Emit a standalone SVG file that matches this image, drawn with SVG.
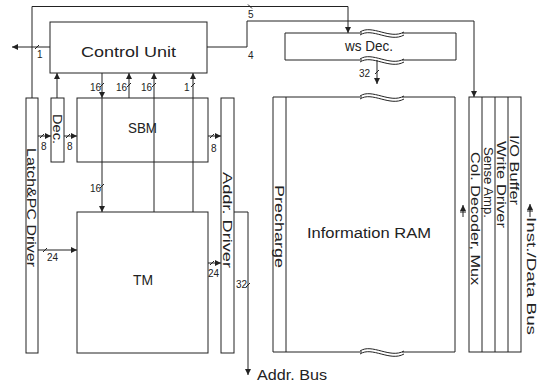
<svg xmlns="http://www.w3.org/2000/svg" width="557" height="383" viewBox="0 0 557 383">
<style>
.bx{fill:none;stroke:#222;stroke-width:1}
.ln{fill:none;stroke:#222;stroke-width:1}
.ar{marker-end:url(#ah)}
.t{font-family:"Liberation Sans",Arial,sans-serif;fill:#222;font-size:14px}
.r{font-family:"Liberation Sans",Arial,sans-serif;fill:#222;font-size:12.5px}
.n{font-family:"Liberation Sans",Arial,sans-serif;fill:#222;font-size:10px}
</style>
<defs>
<marker id="ah" markerWidth="7" markerHeight="7" refX="6" refY="3" orient="auto" markerUnits="userSpaceOnUse">
<path d="M0,0 L6,3 L0,6 z" fill="#222"/>
</marker>
</defs>
<rect width="557" height="383" fill="#fff"/>

<g id="control-unit">
<rect class="bx" x="50" y="22" width="157" height="51"/>
<text class="t" x="81" y="57" font-size="15" textLength="95" lengthAdjust="spacingAndGlyphs">Control Unit</text>
</g>
<g id="latch-pc-driver">
<rect class="bx" x="26" y="98" width="12" height="255"/>
<text class="r" transform="translate(27,148) rotate(90)" textLength="119" lengthAdjust="spacingAndGlyphs">Latch&amp;PC Driver</text>
</g>
<g id="dec">
<rect class="bx" x="51" y="98" width="13" height="64"/>
<text class="r" transform="translate(53,114) rotate(90)" textLength="30" lengthAdjust="spacingAndGlyphs">Dec.</text>
</g>
<g id="sbm">
<rect class="bx" x="77" y="98" width="131" height="64"/>
<text class="t" x="128" y="133" textLength="29" lengthAdjust="spacingAndGlyphs">SBM</text>
</g>
<g id="tm">
<rect class="bx" x="77" y="212" width="131" height="141"/>
<text class="t" x="133" y="285" textLength="20" lengthAdjust="spacingAndGlyphs">TM</text>
</g>
<g id="addr-driver">
<rect class="bx" x="221" y="98" width="13" height="255"/>
<text class="r" transform="translate(223,172) rotate(90)" textLength="96" lengthAdjust="spacingAndGlyphs">Addr. Driver</text>
</g>
<g id="ws-dec">
<path class="bx" d="M362,33 H285 V60 H362 M402,60 H456 V33 H402"/>
<path class="ln" d="M360,32 C372,24 390,40 404,32 M360,35 C372,27 390,43 404,35"/>
<path class="ln" d="M360,59 C372,51 390,67 404,59 M360,62 C372,54 390,70 404,62"/>
<text class="t" x="345" y="51" textLength="48" lengthAdjust="spacingAndGlyphs">ws Dec.</text>
</g>
<g id="information-ram">
<path class="bx" d="M362,97 H273 V352 H362 M402,352 H455 V97 H402"/>
<path class="ln" d="M360,96 C372,88 390,104 404,96 M360,99 C372,91 390,107 404,99"/>
<path class="ln" d="M360,351 C372,343 390,359 404,351 M360,354 C372,346 390,362 404,354"/>
<line class="ln" x1="286" y1="97" x2="286" y2="352"/>
<text class="r" transform="translate(275,185) rotate(90)" textLength="83" lengthAdjust="spacingAndGlyphs">Precharge</text>
<text class="t" x="307" y="238" textLength="124" lengthAdjust="spacingAndGlyphs">Information RAM</text>
</g>
<g id="column-stack">
<rect class="bx" x="469" y="97" width="52" height="255"/>
<path class="ln" d="M482,97 V352 M495,97 V352 M508,97 V352"/>
<text class="r" transform="translate(471,152) rotate(90)" textLength="133" lengthAdjust="spacingAndGlyphs">Col. Decoder, Mux</text>
<text class="r" transform="translate(484,147) rotate(90)" textLength="71" lengthAdjust="spacingAndGlyphs">Sense Amp.</text>
<text class="r" transform="translate(497,141) rotate(90)" textLength="87" lengthAdjust="spacingAndGlyphs">Write Driver</text>
<text class="r" transform="translate(510,135) rotate(90)" textLength="70" lengthAdjust="spacingAndGlyphs">I/O Buffer</text>
</g>
<g id="inst-data-bus">
<text class="r" transform="translate(527,217) rotate(90)" textLength="118" lengthAdjust="spacingAndGlyphs">Inst./Data Bus</text>
</g>
<g id="addr-bus">
<text class="t" x="257" y="380" textLength="70" lengthAdjust="spacingAndGlyphs">Addr. Bus</text>
</g>

<g id="connectors">
<path class="ln ar" d="M32,98 V6.5 H348 V33"/>
<path class="ln ar" d="M207,47 H247 V21 H474 V97"/>
<path class="ln ar" d="M50,47 H12"/>
<path class="ln ar" d="M57,98 V73"/>
<path class="ln ar" d="M102,73 V98"/>
<path class="ln ar" d="M102,98 V212"/>
<path class="ln ar" d="M129,98 V73"/>
<path class="ln ar" d="M154,212 V73"/>
<path class="ln ar" d="M193,212 V73"/>
<path class="ln ar" d="M38,136 H51"/>
<path class="ln ar" d="M64,136 H77"/>
<path class="ln ar" d="M208,136 H221"/>
<path class="ln ar" d="M38,250 H77"/>
<path class="ln ar" d="M208,263 H221"/>
<path class="ln ar" d="M234,212 H248 V375"/>
<path class="ln ar" d="M377,60 V84"/>
<path class="ln ar" d="M463,217 V205"/>
<path class="ln ar" d="M530,217 V204"/>
<path class="ln" d="M248,4.5 l4,4 M35,49 l4,-4 M100,87 l4,-4 M127,87 l4,-4 M152,87 l4,-4 M191,87 l4,-4 M100,188 l4,-4 M40,138 l4,-4 M66,138 l4,-4 M210,138 l4,-4 M43,252 l4,-4 M210,265 l4,-4 M246,287 l4,-4 M375,74 l4,-4 M460,212 h6 M527,211 h6"/>
<text class="n" x="248" y="18">5</text>
<text class="n" x="37" y="58">1</text>
<text class="n" x="248" y="59">4</text>
<text class="n" x="90" y="91">16</text>
<text class="n" x="116" y="91">16</text>
<text class="n" x="141" y="91">16</text>
<text class="n" x="184" y="91">1</text>
<text class="n" x="90" y="192">16</text>
<text class="n" x="41" y="150">8</text>
<text class="n" x="67" y="150">8</text>
<text class="n" x="211" y="152">8</text>
<text class="n" x="47" y="261">24</text>
<text class="n" x="208" y="277">24</text>
<text class="n" x="236" y="288">32</text>
<text class="n" x="359" y="77">32</text>
</g>
</svg>
